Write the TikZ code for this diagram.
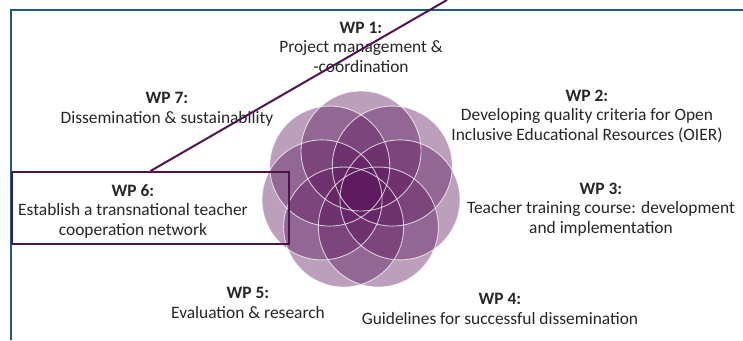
\documentclass[tikz,border=0pt]{standalone}
\usepackage{fontspec}
\setmainfont{Carlito}
\definecolor{frameblue}{RGB}{31,90,120}
\definecolor{wpline}{RGB}{78,22,78}
\definecolor{petal}{RGB}{92,24,92}
\definecolor{txt}{RGB}{38,38,38}
\begin{document}
\begin{tikzpicture}[x=1pt,y=-1pt,
  wplabel/.style={align=center, font=\fontsize{17.4}{19.5}\selectfont, text=txt, inner sep=0pt, anchor=base},
  petalfill/.style={fill=petal, fill opacity=0.41},
  petaledge/.style={draw=white, draw opacity=0.7, line width=0.9pt},
  wpbox/.style={draw=wpline, line width=2pt, inner sep=0pt},
  wpconnector/.style={draw=wpline, line width=2pt}]
\useasboundingbox (0,0) rectangle (743,340);
\fill[white] (0,0) rectangle (743,340);
\draw[frameblue, line width=1.8pt] (11,340) -- (11,10) -- (743,10);
% flower of seven circles
\begin{scope}[shift={(361,191)}]
  \foreach \k in {0,...,6} { \fill[petalfill] ({90+\k*360/7}:40pt) circle[radius=60pt]; }
  \foreach \k in {0,...,6} { \draw[petaledge] ({90+\k*360/7}:40pt) circle[radius=60pt]; }
\end{scope}
% labels (anchor base = baseline of last line)
\node[wplabel] (wp1) at (361,72) {\textbf{WP 1:}\\Project management \&\\-coordination};
\node[wplabel] (wp2) at (587,140) {\textbf{WP 2:}\\Developing quality criteria for Open\\Inclusive Educational Resources (OIER)};
\node[wplabel] (wp3) at (601,233) {\textbf{WP 3:}\\Teacher training course: development\\and implementation};
\node[wplabel] (wp4) at (500,324) {\textbf{WP 4:}\\Guidelines for successful dissemination};
\node[wplabel] (wp5) at (248,318) {\textbf{WP 5:}\\Evaluation \& research};
\node[wplabel] (wp6) at (133,235) {\textbf{WP 6:}\\Establish a transnational teacher\\cooperation network};
\node[wplabel] (wp7) at (167,123) {\textbf{WP 7:}\\Dissemination \& sustainability};
% highlight box and connector
\node[wpbox, minimum width=277pt, minimum height=72pt] (box6) at (150.5,208) {};
\coordinate (lineend) at (447,0);
\draw[wpconnector] (box6.north) -- (lineend);
\end{tikzpicture}
\end{document}
